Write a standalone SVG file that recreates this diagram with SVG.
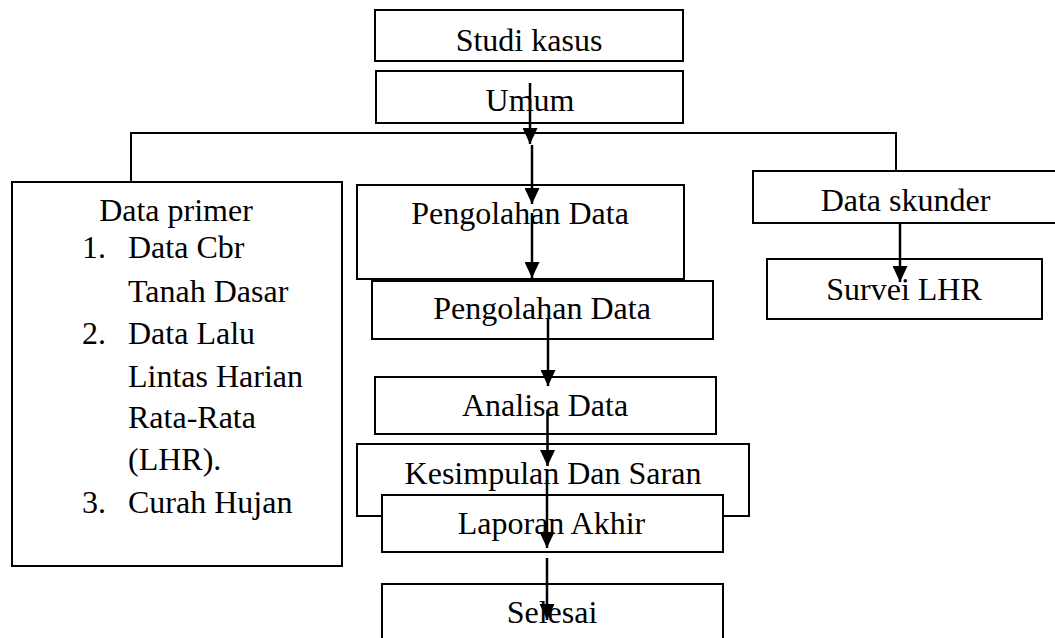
<svg xmlns="http://www.w3.org/2000/svg" width="1055" height="638" viewBox="0 0 1055 638">
  <style>
    .box { fill: #ffffff; stroke: #000000; stroke-width: 2; }
    .t { font-family: "Liberation Serif", "Times New Roman", serif; font-size: 32px; fill: #000000; }
    .c { text-anchor: middle; }
    .ln { stroke: #000000; stroke-width: 2; fill: none; }
    .ar { stroke: #000000; stroke-width: 2.5; fill: none; }
  </style>
  <defs>
    <marker id="arr" markerWidth="16" markerHeight="15" refX="16" refY="7.5" orient="auto" markerUnits="userSpaceOnUse">
      <path d="M0,0 L16,7.5 L0,15 z" fill="#000000"/>
    </marker>
  </defs>
  <rect width="1055" height="638" fill="#ffffff"/>

  <g id="branch">
    <polyline class="ln" points="131,182 131,133 896,133 896,171"/>
  </g>

  <g id="studi-kasus">
    <rect class="box" x="375" y="10" width="308" height="51"/>
    <text class="t c" x="529" y="51">Studi kasus</text>
  </g>
  <g id="umum">
    <rect class="box" x="376" y="71" width="307" height="52"/>
    <text class="t c" x="530" y="111">Umum</text>
  </g>
  <g id="data-primer">
    <rect class="box" x="12" y="182" width="330" height="384"/>
    <text class="t c" x="176" y="221">Data primer</text>
    <text class="t" x="82" y="258">1.</text>
    <text class="t" x="128" y="258">Data Cbr</text>
    <text class="t" x="128" y="302">Tanah Dasar</text>
    <text class="t" x="82" y="344">2.</text>
    <text class="t" x="128" y="344">Data Lalu</text>
    <text class="t" x="128" y="387">Lintas Harian</text>
    <text class="t" x="128" y="428">Rata-Rata</text>
    <text class="t" x="128" y="470">(LHR).</text>
    <text class="t" x="82" y="513">3.</text>
    <text class="t" x="128" y="513">Curah Hujan</text>
  </g>
  <g id="pengolahan-data-1">
    <rect class="box" x="357" y="185" width="327" height="94"/>
    <text class="t c" x="520" y="224">Pengolahan Data</text>
  </g>
  <g id="pengolahan-data-2">
    <rect class="box" x="372" y="281" width="341" height="58"/>
    <text class="t c" x="542" y="319">Pengolahan Data</text>
  </g>
  <g id="analisa-data">
    <rect class="box" x="375" y="377" width="341" height="57"/>
    <text class="t c" x="545" y="416">Analisa Data</text>
  </g>
  <g id="kesimpulan">
    <rect class="box" x="357" y="444" width="392" height="72"/>
    <text class="t c" x="553" y="484">Kesimpulan Dan Saran</text>
  </g>
  <g id="laporan-akhir">
    <rect class="box" x="382" y="495" width="341" height="57"/>
    <text class="t c" x="551.5" y="534">Laporan Akhir</text>
  </g>
  <g id="selesai">
    <rect class="box" x="382" y="584" width="341" height="70"/>
    <text class="t c" x="552" y="623">Selesai</text>
  </g>
  <g id="data-skunder">
    <rect class="box" x="753" y="171" width="310" height="52"/>
    <text class="t c" x="905.5" y="211">Data skunder</text>
  </g>
  <g id="survei-lhr">
    <rect class="box" x="767" y="259" width="275" height="60"/>
    <text class="t c" x="904" y="300">Survei LHR</text>
  </g>

  <g id="connectors">
    <line class="ar" x1="530" y1="83" x2="530" y2="144" marker-end="url(#arr)"/>
    <line class="ar" x1="532" y1="145" x2="532" y2="204" marker-end="url(#arr)"/>
    <line class="ar" x1="532" y1="213" x2="532" y2="278" marker-end="url(#arr)"/>
    <line class="ar" x1="548" y1="318" x2="548" y2="386" marker-end="url(#arr)"/>
    <line class="ar" x1="547.5" y1="410" x2="547.5" y2="466" marker-end="url(#arr)"/>
    <line class="ar" x1="547" y1="480" x2="547" y2="548" marker-end="url(#arr)"/>
    <line class="ar" x1="547" y1="558" x2="547" y2="620" marker-end="url(#arr)"/>
    <line class="ar" x1="900" y1="223" x2="900" y2="282" marker-end="url(#arr)"/>
  </g>
</svg>
